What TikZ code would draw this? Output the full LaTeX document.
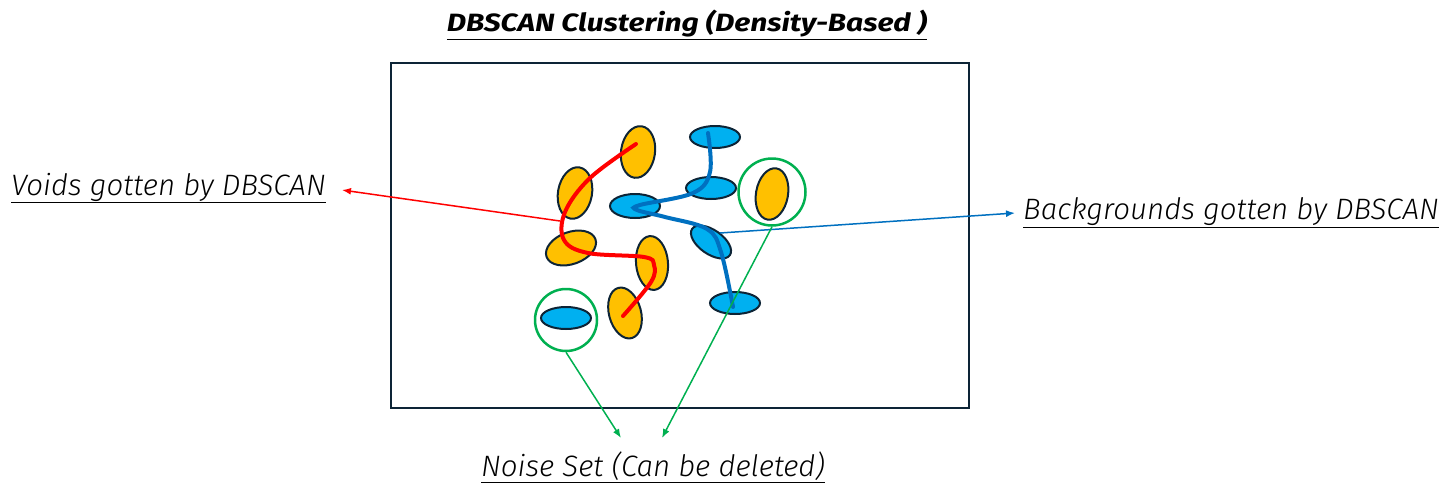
\documentclass[tikz,border=0pt]{standalone}
\usepackage{fontspec}
\setmainfont{Fira Sans}
\newfontfamily\lightit{Fira Sans Light Italic}
\newfontfamily\boldit[FakeStretch=1.2]{Fira Sans Bold Italic}
\usetikzlibrary{arrows.meta}
\definecolor{orng}{HTML}{FFC000}
\definecolor{skyb}{HTML}{00B0F0}
\definecolor{edge}{HTML}{0D2436}
\definecolor{redc}{HTML}{FF0000}
\definecolor{bluec}{HTML}{0070C0}
\definecolor{grn}{HTML}{00B050}
\tikzset{
  orangeblob/.style={fill=orng,draw=edge,line width=2pt},
  blueblob/.style={fill=skyb,draw=edge,line width=2pt},
  noisering/.style={circle,draw=grn,line width=2.5pt,inner sep=0pt},
  lbl/.style={inner sep=0pt,font=\lightit\fontsize{29.5}{32}\selectfont},
  tip/.style={-{Latex[length=9pt,width=7pt]}},
}
\begin{document}
\begin{tikzpicture}[x=1pt,y=-1pt]
\useasboundingbox (0,0) rectangle (1448,499);
% title
\node[inner sep=0pt,font=\boldit\fontsize{25}{28}\selectfont] (title) at (687,25) {\underline{DBSCAN Clustering (Density-Based )}};
% frame
\node[draw=edge,line width=1.5pt,minimum width=578pt,minimum height=345pt,inner sep=0pt] (frame) at (680,235.5) {};
% orange blobs
\draw[orangeblob,rotate around={-8:(638,152)}] (638,152) ellipse [x radius=17,y radius=26];
\draw[orangeblob,rotate around={-10:(575,193)}] (575,193) ellipse [x radius=17,y radius=26];
\draw[orangeblob,rotate around={20:(571,248)}] (571,248) ellipse [x radius=26,y radius=16];
\draw[orangeblob,rotate around={5:(652,263)}] (652,263) ellipse [x radius=16,y radius=27];
\draw[orangeblob,rotate around={15:(625,313)}] (625,313) ellipse [x radius=16,y radius=26];
\draw[orangeblob,rotate around={-10:(772,194)}] (772,194) ellipse [x radius=16,y radius=26];
% blue blobs
\draw[blueblob] (715,137) ellipse [x radius=25,y radius=11];
\draw[blueblob] (711,188) ellipse [x radius=25,y radius=11];
\draw[blueblob] (635,206) ellipse [x radius=25,y radius=12];
\draw[blueblob,rotate around={-35:(711,242)}] (711,242) ellipse [x radius=23,y radius=12];
\draw[blueblob] (735,303) ellipse [x radius=25,y radius=11];
\draw[blueblob] (566,318) ellipse [x radius=25,y radius=11];
% curves
\draw[redc,line width=4pt,line cap=round] plot[smooth,tension=0.6] coordinates {(636,144) (590,178) (565,212) (564,240) (588,253) (644,257) (654,265) (651,282) (623,316)};
\draw[bluec,line width=4pt,line cap=round] plot[smooth,tension=0.6] coordinates {(708,133) (710,172) (693,193) (640,205) (637,210) (665,217) (707,229) (721,252) (733,307)};
% noise rings
\node[noisering,minimum size=67pt] (c1) at (772,192) {};
\node[noisering,minimum size=62pt] (c2) at (566,320) {};
% labels
\node[lbl,anchor=east] (voids) at (326,188) {\underline{Voids gotten by DBSCAN}};
\node[lbl,anchor=west] (bg) at (1023,213) {\underline{Backgrounds gotten by DBSCAN}};
\node[lbl] (noise) at (653,467) {\underline{Noise Set (Can be deleted)}};
% connector ends
\coordinate (rs) at (560,221);
\coordinate (bs) at (720,233);
\coordinate (n1) at (621,438);
\coordinate (n2) at (662,438);
\draw[redc,line width=1.5pt,tip] (rs) -- ([xshift=16pt,yshift=-2pt]voids.east);
\draw[bluec,line width=1.5pt,tip] (bs) -- ([xshift=-8pt]bg.west);
\draw[grn,line width=1.5pt,tip] (c2.south) -- (n1);
\draw[grn,line width=1.5pt,tip] (c1.south) -- (n2);
\end{tikzpicture}
\end{document}
